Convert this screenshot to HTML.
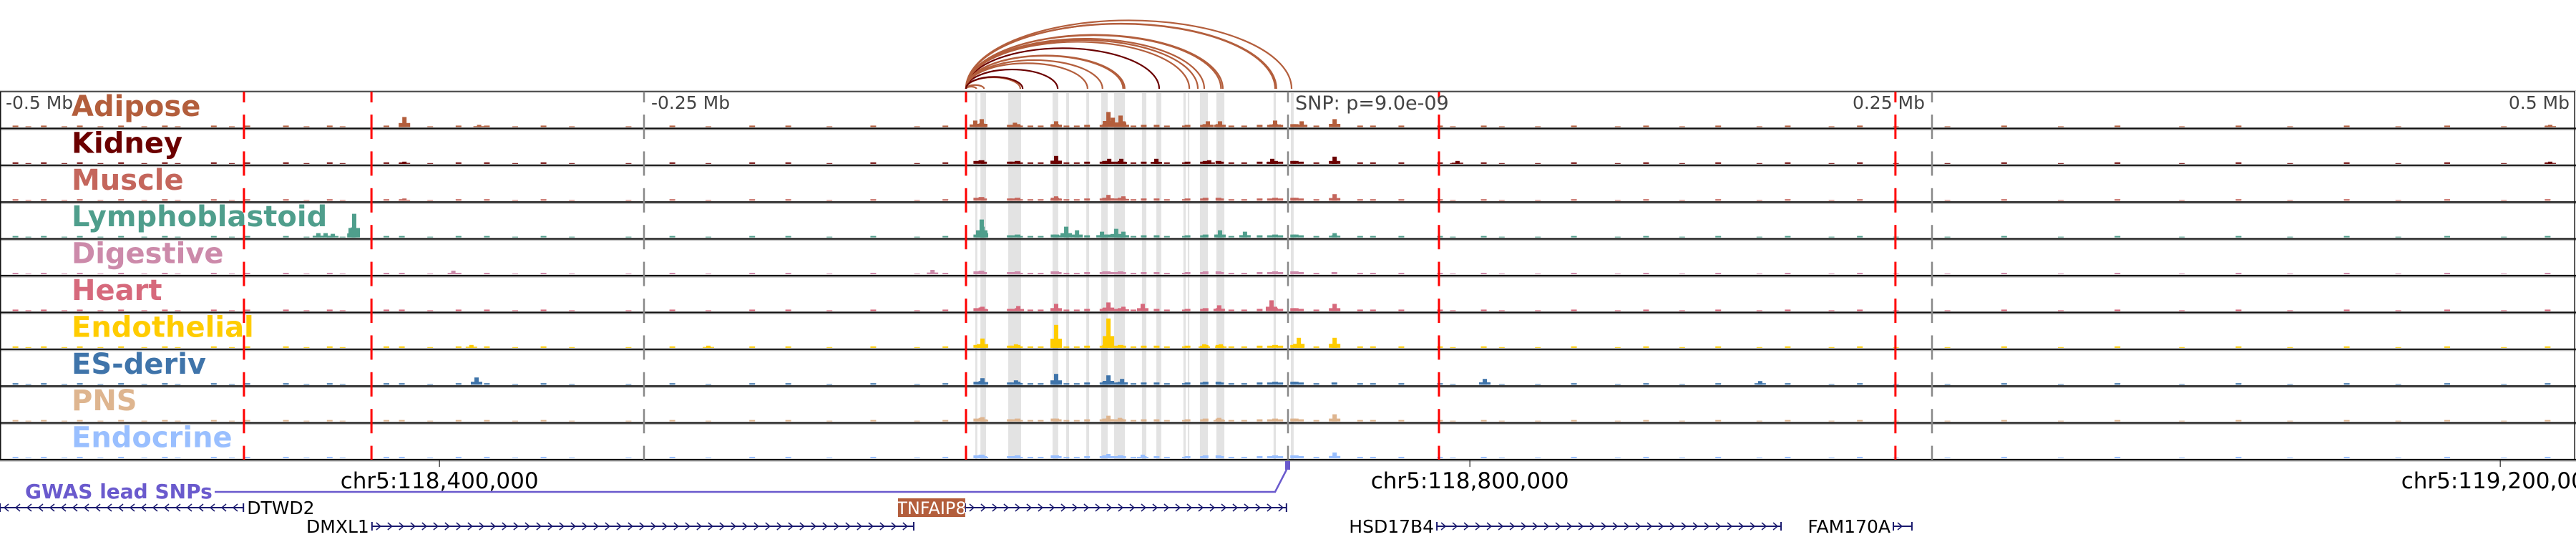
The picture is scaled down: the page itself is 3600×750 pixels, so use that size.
<!DOCTYPE html>
<html><head><meta charset="utf-8"><style>
html,body{margin:0;padding:0;background:#fff;}
svg{display:block;}
text{font-family:"DejaVu Sans","Liberation Sans",sans-serif;}
</style></head><body>
<svg id="chart" width="3600" height="750" viewBox="0 0 3600 750" xmlns="http://www.w3.org/2000/svg"></svg>
<script>
// ---- data (kb offset relative to lead SNP) ----
const tissueNames = ["Adipose","Kidney","Muscle","Lymphoblastoid","Digestive","Heart","Endothelial","ES-deriv","PNS","Endocrine"];
const tissueColors = ["#b35e3c","#6b0000","#c4665c","#4f9e8c","#cc8aaa","#d6697c","#ffcc00","#3f74aa","#deb58f","#99bfff"];
const redLinesKb = [-405.3,-355.8,-125,58.6,235.8];
const grayLinesKb = [-250,0,250];
const shadeStartKb = [-121.4,-119.4,-108.6,-91.4,-86.1,-78.3,-72.5,-67.5,-56.7,-51.1,-40.6,-38.9,-34.2,-27.8,-5.6,1.1];
const shadeEndKb   = [-120.6,-117.2,-103.6,-89.2,-85.0,-77.2,-70.0,-63.3,-55.0,-49.2,-39.7,-38.3,-31.1,-24.7,-4.7,2.2];
const bgKb = [-494,-489,-483,-475,-469,-461,-453,-444,-436,-431,-417,-410,-404,-389,-381,-372,-367,-350,-344,-333,-322,-311,-300,-289,-278,-256,-239,-225,-208,-194,-178,-161,-144,-133,
 -121,-119,-118,-108,-107,-105,-104,-100,-96,-91,-90,-89,-86,-82,-78,-72,-71,-70,-69,-67,-65,-64,-60,-56,-51,-47,-40,-39,-33,-32,-27,-26,-22,-17,-11,-7,-5,-3,2,3,5,11,18,28,33,44,
 59,64,76,83,97,111,128,139,153,167,183,194,211,222,236,256,278,300,322,347,369,389,411,431,450,472,489];
const bgH = [2,1,2,1,2,1,2,1,2,1,2,1,2,2,1,2,1,2,2,1,2,2,1,2,1,1,2,1,2,2,1,2,1,2,
 4,5,3,3,3,4,2,2,2,4,4,3,2,2,3,3,4,4,3,3,4,3,2,3,3,2,2,3,3,4,4,3,2,2,3,3,4,3,4,4,3,2,3,2,2,2,
 2,1,2,1,1,2,1,2,1,2,1,2,1,2,1,1,2,1,2,1,2,1,2,1,2,1,2];
const adiposeKb=[-343,-314,-121.4,-118.9,-106,-90,-69.7,-68,-65,-63.9,-31.1,-26.4,-5,5.3,18.1,490];
const adiposeH =[14,3,9,11,6,8,21,13,16,8,8,8,9,8,11,3];
const kidneyKb=[-343,-90,-69.4,-64.7,-51.1,-30.6,-6.1,18.1,65.8,490];
const kidneyH =[3,11,7,7,7,5,7,10,4,3];
const muscleKb=[-343,-90,-69.7,-63.9,18.1];
const muscleH =[3,6,8,6,9];
const lymphoKb=[-376.4,-373.6,-370.8,-363,-362.5,-118.9,-118.6,-86.1,-81.9,-72.2,-66.7,-63.9,-26.4,-16.7,18.1];
const lymphoH =[6,6,5,14,33,25,15,15,10,8,12,8,10,8,6];
const digestiveKb=[-324,-138,-69.7];
const digestiveH =[5,6,4];
const heartKb=[-118.6,-104.7,-90,-69.7,-63.9,-56.4,-26.7,-6.4,18.1];
const heartH =[6,7,10,12,6,10,8,15,10];
const endoKb=[-317,-225,-118.6,-105.6,-90,-69.7,-32.5,-26.1,4.2,18.1];
const endoH =[4,3,13,5,32,41,5,5,14,14];
const esKb=[-315,-118.6,-105.6,-90,-69.7,-64.4,76.4,183.3];
const esH =[10,9,6,15,13,8,8,5];
const pnsKb=[-118.6,-69.7,-65.3,-26.7,18.1];
const pnsH =[6,8,5,5,10];
const endocrineKb=[-118.6,-69.7,-56.4,18.1];
const endocrineH =[5,6,5,8];
const peakKb=[adiposeKb,kidneyKb,muscleKb,lymphoKb,digestiveKb,heartKb,endoKb,esKb,pnsKb,endocrineKb];
const peakH=[adiposeH,kidneyH,muscleH,lymphoH,digestiveH,heartH,endoH,esH,pnsH,endocrineH];
const arcAnchorKb = -125;
const arcEndKb = [-121,-118,-103.9,-89.4,-77.8,-72,-63.4,-50,-38.3,-32.5,-25.3,-5,1.4,-4.5,-26,-35,-64,-103];
const arcDark  = [0,0,0,1,0,0,0,1,0,0,0,0,0,0,0,0,0,1];
const bottomTickKb = [-400,0,400];
const bottomTickLabels = ["chr5:118,400,000","chr5:118,800,000","chr5:119,200,000"];
const bottomTickOffsetKb = 70.6;
const geneNames = ["DTWD2","DMXL1","TNFAIP8","HSD17B4","FAM170A"];
const geneStartKb = [-500,-355.6,-125.3,57.8,235];
const geneEndKb = [-405.5,-145.3,-0.6,191.4,242.2];
const geneStrand = [-1,1,1,1,1];
const geneRow = [0,1,0,1,1];
const snpKb = 0;

// ---- scales ----
const X = kb => 1800 + kb*3.6;
const top0 = 128, trackH = 51.4;
const svg = document.getElementById('chart');
const NS = "http://www.w3.org/2000/svg";
function mk(tag, attrs, parent){ const e=document.createElementNS(NS,tag); for(const k in attrs) e.setAttribute(k,attrs[k]); (parent||svg).appendChild(e); return e; }

// shaded enhancer columns
const gShade = mk('g',{});


shadeStartKb.forEach((s,i)=>{
  const r = mk('rect',{x:X(s),y:130,width:Math.max(2,X(shadeEndKb[i])-X(s)),height:512,fill:'#e3e3e3'},gShade);
  
  
});

// arcs
const gArc = mk('g',{fill:'none'});


arcEndKb.forEach((e,i)=>{
  const x1=X(arcAnchorKb), x2=X(e), w=x2-x1, h=w*0.21;
  const p = mk('path',{d:`M${x1} 124 A${w/2} ${h} 0 0 1 ${x2} 124`,stroke:arcDark[i]?'#6b0000':'#b35e3c','stroke-width':2.2},gArc);
  
  
});

// tracks
tissueNames.forEach((name,t)=>{
  const ty = top0 + t*trackH, base = ty + trackH - 2;
  const g = mk('g',{});
  
  
  bgKb.forEach((k,i)=>{
    const b = mk('rect',{x:X(k)-4,y:base-bgH[i],width:8,height:bgH[i],fill:tissueColors[t]},g);
    
    
  });
  peakKb[t].forEach((k,i)=>{
    const h = peakH[t][i];
    const b = mk('rect',{x:X(k)-3,y:base-h,width:6,height:h,fill:tissueColors[t]},g);
    
    
    const s = mk('rect',{x:X(k)-8,y:base-h*0.4,width:16,height:h*0.4,fill:tissueColors[t]},g);
    
    
  });
  const lb = mk('text',{x:100,y:ty+34,'font-size':40,'font-weight':'bold',fill:tissueColors[t]},g);
  lb.textContent = name;
  
  
  const ln = mk('line',{x1:0,x2:3600,y1:ty+trackH,y2:ty+trackH,stroke:'#111','stroke-width':2.2},g);
  
  
  const ln2 = mk('line',{x1:0,x2:3600,y1:ty+trackH+2,y2:ty+trackH+2,stroke:'#aaa','stroke-width':1},g);
  
  
});
// frame
const fr = mk('rect',{x:0.75,y:top0,width:3597.5,height:trackH*10,fill:'none',stroke:'#111','stroke-width':1.5});


const fr2 = mk('line',{x1:0,x2:3600,y1:top0-1.5,y2:top0-1.5,stroke:'#ccc','stroke-width':1.2});



// dashed vertical lines
function vline(kb,color,w,name){
  const g = mk('g',{});
  
  
  mk('line',{x1:X(kb),x2:X(kb),y1:top0,y2:top0+15,stroke:color,'stroke-width':w},g);
  for(let t=0;t<10;t++){
    const ty=top0+t*trackH+32;
    mk('line',{x1:X(kb),x2:X(kb),y1:ty,y2:Math.min(ty+34,top0+trackH*10),stroke:color,'stroke-width':w},g);
  }
}
grayLinesKb.forEach(k=>vline(k,'#888',2.5,'position-marker-line'));
redLinesKb.forEach(k=>vline(k,'#ff0000',3,'boundary-line'));

// top mb labels
const mbLabels=[["-0.5 Mb",8,'start'],["-0.25 Mb",910,'start'],["0.25 Mb",2690,'end'],["0.5 Mb",3591,'end']];
mbLabels.forEach(m=>{
  const t=mk('text',{x:m[1],y:152,'font-size':25,fill:'#444','text-anchor':m[2]});
  t.textContent=m[0];
  
  
});
const snpT=mk('text',{x:1810,y:153,'font-size':27,fill:'#444'});
snpT.textContent='SNP: p=9.0e-09';



// bottom axis
bottomTickKb.forEach((k,i)=>{
  const x=X(k+bottomTickOffsetKb);
  const tk=mk('line',{x1:x,x2:x,y1:642,y2:652,stroke:'#222','stroke-width':1.2});
  
  
  const t=mk('text',{x:x,y:682,'font-size':31,fill:'#000','text-anchor':'middle'});
  t.textContent=bottomTickLabels[i];
  
  
});

// GWAS
const gw=mk('text',{x:35,y:696,'font-size':28,'font-weight':'bold',fill:'#6a5acd'});
gw.textContent='GWAS lead SNPs';


const gl=mk('path',{d:`M300 687 L${X(snpKb)-18} 687 L${X(snpKb)-2} 656`,fill:'none',stroke:'#6a5acd','stroke-width':2.5});


const gs=mk('rect',{x:X(snpKb)-4,y:644,width:7,height:12,fill:'#6a5acd'});



// genes
geneNames.forEach((n,i)=>{
  const y = geneRow[i]===0 ? 709 : 735;
  const x1=X(geneStartKb[i]), x2=X(geneEndKb[i]);
  const g=mk('g',{});
  
  
  mk('line',{x1:x1,x2:x2,y1:y,y2:y,stroke:'#1a1a6e','stroke-width':2},g);
  mk('line',{x1:x1,x2:x1,y1:y-6,y2:y+6,stroke:'#1a1a6e','stroke-width':2},g);
  mk('line',{x1:x2,x2:x2,y1:y-6,y2:y+6,stroke:'#1a1a6e','stroke-width':2},g);
  let d='';
  for(let x=x1+10;x<x2-4;x+=16){
    if(geneStrand[i]>0) d+=`M${x-4} ${y-5} L${x+2} ${y} L${x-4} ${y+5} `;
    else d+=`M${x+2} ${y-5} L${x-4} ${y} L${x+2} ${y+5} `;
  }
  mk('path',{d:d,fill:'none',stroke:'#1a1a6e','stroke-width':1.5},g);
  let t;
  if(n==='TNFAIP8'){
    mk('rect',{x:x1-94,y:y-13,width:94,height:26,fill:'#b35e3c'},g);
    t=mk('text',{x:x1-47,y:y+9,'font-size':24,fill:'#fff','text-anchor':'middle'},g);
  } else if(geneStrand[i]<0){
    t=mk('text',{x:x2+5,y:y+9,'font-size':25,fill:'#000'},g);
  } else {
    t=mk('text',{x:x1-4,y:y+9,'font-size':25,fill:'#000','text-anchor':'end'},g);
  }
  t.textContent=n;
  
  
});
</script>
</body></html>
